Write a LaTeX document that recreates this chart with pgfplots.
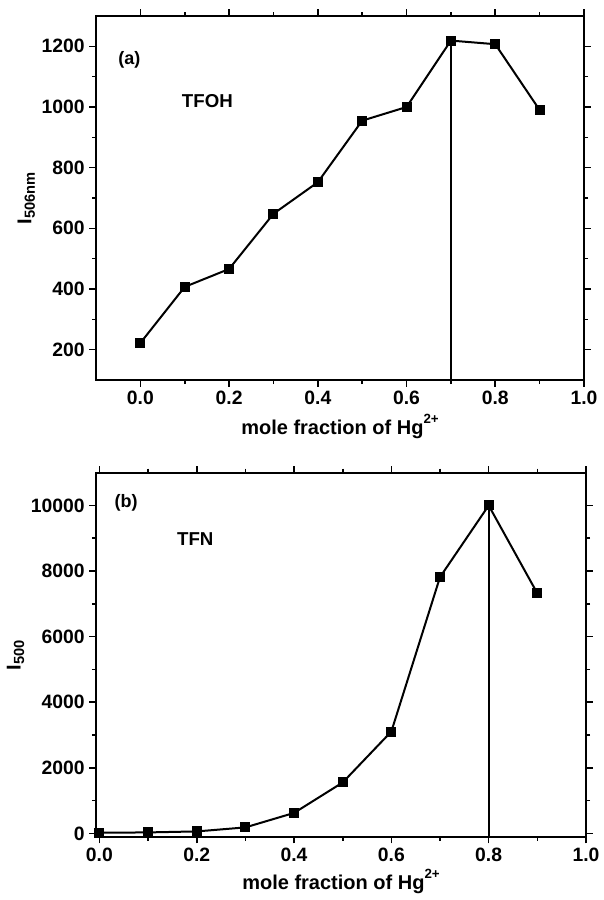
\documentclass[border=0pt]{standalone}
\usepackage{pgfplots}
\pgfplotsset{compat=1.18}
\usepackage{fontspec}
\setmainfont{Liberation Sans}
\newcommand{\hgsup}{\raisebox{0.55em}{\fontsize{10}{11}\selectfont 2+}}
\begin{document}
\begin{tikzpicture}
\path (0pt,0pt) rectangle (450pt,-675pt);
\pgfplotsset{
  every axis/.append style={
    scale only axis,
    axis line style={line width=1.5pt},
    tick style={line width=1.2pt, black},
    major tick length=5pt,
    minor tick length=3pt,
    tick align=outside,
    tick label style={font=\fontsize{14.5}{16}\selectfont\bfseries},
    label style={font=\fontsize{15}{17}\selectfont\bfseries},
    /pgf/number format/assume math mode=true,
    x tick label style={/pgf/number format/.cd, fixed, fixed zerofill, precision=1},
    y tick label style={/pgf/number format/.cd, fixed, 1000 sep={}},
    scaled y ticks=false,
    minor x tick num=1,
    minor y tick num=1,
    clip=false,
  },
}
\begin{axis}[
  at={(72pt,-285pt)}, anchor=south west,
  width=366pt, height=273pt,
  xmin=-0.1, xmax=1.0, ymin=100, ymax=1300,
  xtick={0,0.2,...,1.0},
  ytick={200,400,...,1200},
  xlabel={mole fraction of Hg\hgsup},
  ylabel={I\textsubscript{\fontsize{11}{12}\selectfont 506nm}},
  xlabel style={yshift=0pt},
  ylabel style={yshift=-2pt},
]
\addplot[black, line width=1.5pt, mark=square*, mark size=3pt] coordinates {
(0.0,222) (0.1,407) (0.2,466) (0.3,648) (0.4,752) (0.5,955) (0.6,1000) (0.7,1219) (0.8,1207) (0.9,990)
};
\addplot[black, line width=1.5pt] coordinates {(0.7,1219) (0.7,100)};
\node[font=\fontsize{13.5}{15}\selectfont\bfseries] at (axis cs:-0.025,1156) {(a)};
\node[font=\fontsize{14}{16}\selectfont\bfseries] at (axis cs:0.151,1018) {TFOH};
\end{axis}
\begin{axis}[
  at={(72pt,-627.5pt)}, anchor=south west,
  width=367.5pt, height=273pt,
  xmin=-0.007, xmax=1.0, ymin=-100, ymax=11000,
  xtick={0,0.2,...,1.0},
  ytick={0,2000,...,10000},
  xlabel={mole fraction of Hg\hgsup},
  ylabel={I\textsubscript{\fontsize{11}{12}\selectfont 500}},
  xlabel style={yshift=1pt},
  ylabel style={yshift=-2pt},
]
\addplot[black, line width=1.5pt, mark=square*, mark size=3pt] coordinates {
(0.0,20) (0.1,30) (0.2,60) (0.3,183) (0.4,624) (0.5,1553) (0.6,3107) (0.7,7816) (0.8,10000) (0.9,7320)
};
\addplot[black, line width=1.5pt] coordinates {(0.8,10000) (0.8,-100)};
\node[font=\fontsize{13.5}{15}\selectfont\bfseries] at (axis cs:0.055,10090) {(b)};
\node[font=\fontsize{14}{16}\selectfont\bfseries] at (axis cs:0.197,8964) {TFN};
\end{axis}
\end{tikzpicture}
\end{document}
